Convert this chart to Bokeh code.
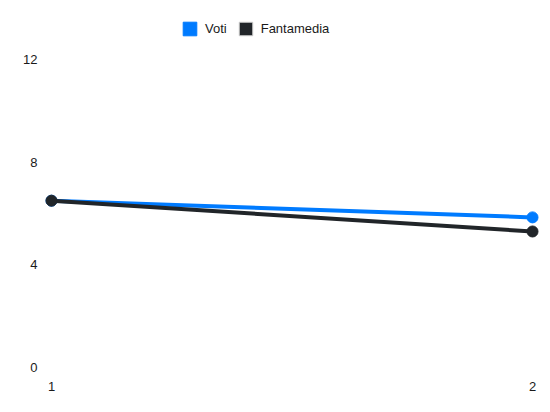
from bokeh.plotting import figure
from bokeh.models import Range1d, FixedTicker, Legend, LegendItem, ColumnDataSource
from bokeh.embed import file_html
from bokeh.resources import INLINE

# data
giornate = [1, 2]
voti = [6.5, 5.85]
fantamedia = [6.5, 5.3]
y_ticks = [0, 4, 8, 12]

BLUE = "#007bff"
DARK = "#212529"
FONT = "Liberation Sans"

p = figure(width=542, height=404, output_backend="svg", toolbar_location=None,
           x_range=Range1d(0.9813, 2.0166), y_range=Range1d(-0.312, 13.99),
           min_border_left=42, min_border_right=2, min_border_top=8, min_border_bottom=29)
p.outline_line_color = None
p.grid.visible = False

# axes
for ax in (p.xaxis, p.yaxis):
    ax.axis_line_color = None
    ax.major_tick_line_color = None
    ax.minor_tick_line_color = None
    ax.major_tick_out = 0
    ax.major_tick_in = 0
    ax.major_label_text_font = FONT
    ax.major_label_text_font_size = "13px"
    ax.major_label_text_color = "#1a1a1a"
p.xaxis.major_label_standoff = 6
p.yaxis.major_label_standoff = 5
p.xaxis.ticker = FixedTicker(ticks=giornate)
p.yaxis.ticker = FixedTicker(ticks=y_ticks)

# lines and points
src_v = ColumnDataSource(dict(x=giornate, y=voti))
src_f = ColumnDataSource(dict(x=giornate, y=fantamedia))
p.line("x", "y", source=src_v, line_color=BLUE, line_width=4)
p.scatter("x", "y", source=src_v, size=11, fill_color=BLUE, line_color=BLUE)
p.line("x", "y", source=src_f, line_color=DARK, line_width=4)
p.scatter("x", "y", source=src_f, size=11, fill_color=DARK, line_color=DARK)

# legend with square swatches (dummy quads kept outside the visible range)
off = ColumnDataSource(dict(l=[-10], r=[-9], t=[-10], b=[-11]))
q_v = p.quad(left="l", right="r", top="t", bottom="b", source=off, fill_color=BLUE, line_color=BLUE)
q_f = p.quad(left="l", right="r", top="t", bottom="b", source=off, fill_color=DARK, line_color="#d8d8d8")
legend = Legend(items=[LegendItem(label="Voti", renderers=[q_v]),
                       LegendItem(label="Fantamedia", renderers=[q_f])],
                orientation="horizontal", location=(139, 338),
                padding=0, margin=0, spacing=10, label_standoff=7,
                glyph_width=17, glyph_height=17, label_height=17,
                border_line_color=None, background_fill_alpha=0,
                label_text_font=FONT, label_text_font_size="13px", label_text_color="#1a1a1a")
p.add_layout(legend)

open("out.html", "w").write(file_html(p, INLINE))
